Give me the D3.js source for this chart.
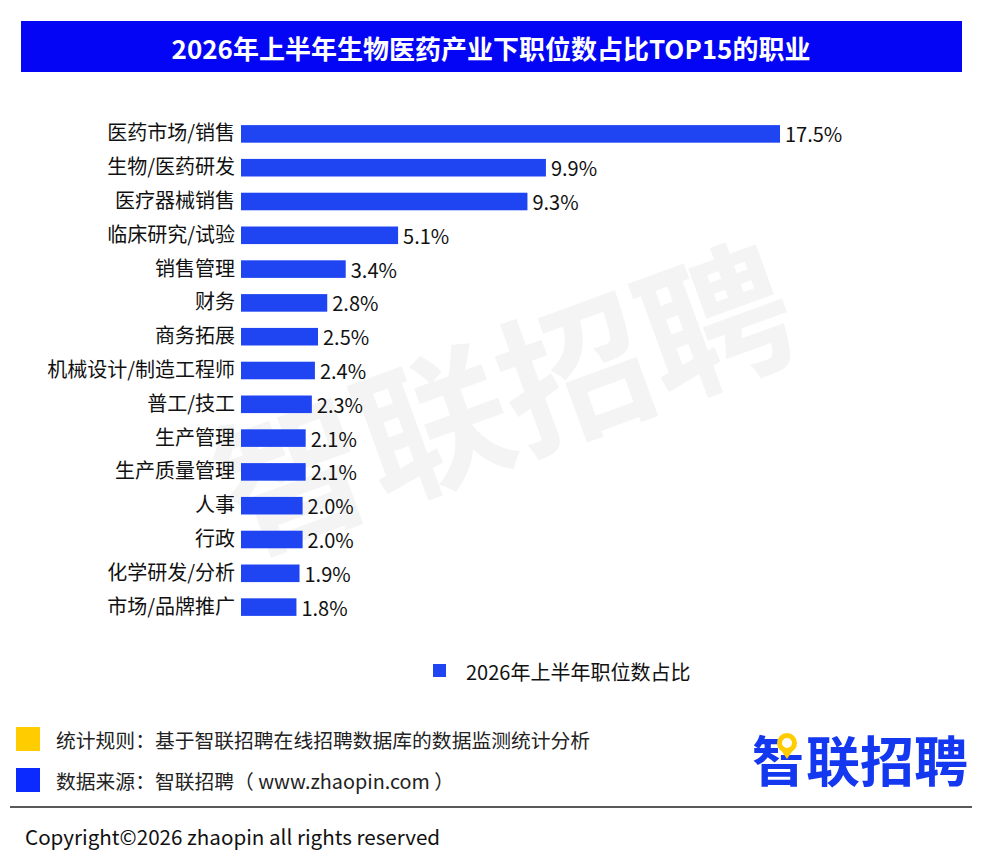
<!DOCTYPE html>
<html>
<head>
<meta charset="utf-8">
<script src="https://cdn.jsdelivr.net/npm/d3@7"></script>
<style>
  html, body { margin: 0; padding: 0; background: #fff; }
  svg { display: block; font-family: "Noto Sans CJK SC", "Noto Sans", sans-serif; }
</style>
</head>
<body>
<svg id="chart" width="983" height="858"></svg>
<script>
// data
const titleText = '2026年上半年生物医药产业下职位数占比TOP15的职业'
const seriesName = '2026年上半年职位数占比'
const jobs = ['医药市场/销售', '生物/医药研发', '医疗器械销售', '临床研究/试验', '销售管理', '财务', '商务拓展',
    '机械设计/制造工程师', '普工/技工', '生产管理', '生产质量管理', '人事', '行政', '化学研发/分析', '市场/品牌推广']
const shares = [17.5, 9.9, 9.3, 5.1, 3.4, 2.8, 2.5, 2.4, 2.3, 2.1, 2.1, 2.0, 2.0, 1.9, 1.8]
const notes = ['统计规则：基于智联招聘在线招聘数据库的数据监测统计分析', '数据来源：智联招聘（ www.zhaopin.com ）']
const noteColors = ['#ffcc00', '#0a2aff']

let chart = d3.select('#chart')
let barColor = '#1f45f2'

// watermark
chart.append('text')
    .attr('transform', 'translate(501,390) rotate(-20)')
    .attr('text-anchor', 'middle')
    .attr('dominant-baseline', 'central')
    .attr('font-size', 150)
    .attr('font-weight', 'bold')
    .attr('fill', '#f4f4f4')
    .text('智联招聘')

// title bar
chart.append('rect')
    .attr('x', 21).attr('y', 21)
    .attr('width', 941).attr('height', 51)
    .attr('fill', '#0505f5')
chart.append('text')
    .attr('x', 491).attr('y', 47)
    .attr('text-anchor', 'middle')
    .attr('dominant-baseline', 'central')
    .attr('font-size', 26)
    .attr('font-weight', 'bold')
    .attr('fill', '#fff')
    .text(titleText)

// scales
let yScale = d3.scaleBand()
    .domain(jobs)
    .range([117, 624])
    .paddingInner(0.48)
    .paddingOuter(0.24)
let xScale = d3.scaleLinear()
    .domain([0, d3.max(shares)])
    .range([241, 780])

let rows = jobs.map((job, i) => ({ job: job, value: shares[i] }))

// category axis
let axisLeft = d3.axisLeft(yScale).tickSize(0).tickPadding(6)
chart.append('g')
    .attr('transform', 'translate(241,0)')
    .call(axisLeft)
    .call((g) => g.select('.domain').remove())
    .selectAll('text')
    .attr('font-size', 20)
    .attr('fill', '#111')
    .attr('font-family', '"Noto Sans CJK SC", sans-serif')

// bars
let bars = chart.append('g')
    .selectAll('g')
    .data(rows)
    .enter()
    .append('g')
bars.append('rect')
    .attr('x', xScale(0))
    .attr('y', (d) => yScale(d.job))
    .attr('width', (d) => xScale(d.value) - xScale(0))
    .attr('height', yScale.bandwidth())
    .attr('fill', barColor)
bars.append('text')
    .attr('x', (d) => xScale(d.value) + 5)
    .attr('y', (d) => yScale(d.job) + yScale.bandwidth() / 2)
    .attr('dominant-baseline', 'central')
    .attr('font-size', 20)
    .attr('fill', '#111')
    .text((d) => d.value.toFixed(1) + '%')

// legend
chart.append('rect')
    .attr('x', 433).attr('y', 664)
    .attr('width', 13).attr('height', 13)
    .attr('fill', barColor)
chart.append('text')
    .attr('x', 466).attr('y', 671)
    .attr('dominant-baseline', 'central')
    .attr('font-size', 20)
    .attr('fill', '#111')
    .text(seriesName)

// footer notes
let noteRows = chart.append('g')
    .selectAll('g')
    .data(notes)
    .enter()
    .append('g')
    .attr('transform', (d, i) => 'translate(0,' + (739 + i * 41) + ')')
noteRows.append('rect')
    .attr('x', 16).attr('y', -12)
    .attr('width', 24).attr('height', 24)
    .attr('fill', (d, i) => noteColors[i])
noteRows.append('text')
    .attr('x', 56).attr('y', 0)
    .attr('dominant-baseline', 'central')
    .attr('font-size', 19.8)
    .attr('fill', '#222')
    .text((d) => d)

// logo
chart.append('text')
    .attr('x', 752).attr('y', 758)
    .attr('dominant-baseline', 'central')
    .attr('font-size', 54)
    .attr('font-weight', 'bold')
    .attr('fill', '#1438f0')
    .text('智联招聘')
chart.append('rect')
    .attr('x', 778).attr('y', 730)
    .attr('width', 26).attr('height', 25)
    .attr('fill', '#fff')
chart.append('path')
    .attr('d', 'M787,759 L781,750 L793,750 Z')
    .attr('fill', '#ffcc00')
chart.append('circle')
    .attr('cx', 787).attr('cy', 743)
    .attr('r', 7.5)
    .attr('fill', '#fff')
    .attr('stroke', '#ffcc00')
    .attr('stroke-width', 5)

// divider and copyright
chart.append('line')
    .attr('x1', 10).attr('x2', 972)
    .attr('y1', 807).attr('y2', 807)
    .attr('stroke', '#222')
    .attr('stroke-width', 1.5)
chart.append('text')
    .attr('x', 25).attr('y', 836)
    .attr('dominant-baseline', 'central')
    .attr('font-size', 20.6)
    .attr('fill', '#111')
    .text('Copyright©2026 zhaopin all rights reserved')
</script>
</body>
</html>
